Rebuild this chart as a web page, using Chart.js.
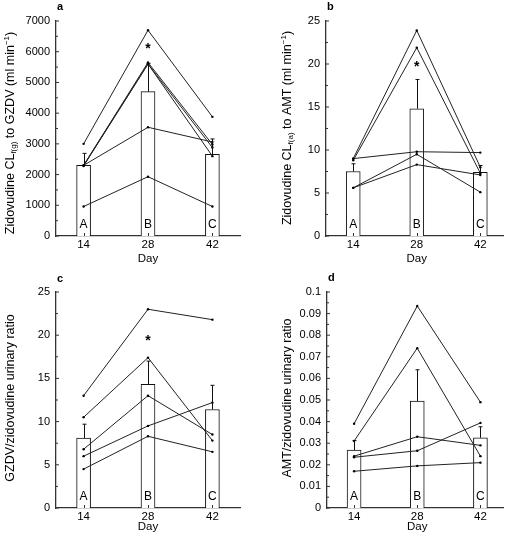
<!DOCTYPE html>
<html>
<head>
<meta charset="utf-8">
<script src="https://cdn.jsdelivr.net/npm/chart.js@4.4.1/dist/chart.umd.min.js"></script>
<style>
  body { margin: 0; background: #fff; }
  canvas { position: absolute; }
</style>
</head>
<body>
<canvas id="pa" width="255" height="270" style="left:0;top:0"></canvas>
<canvas id="pb" width="255" height="270" style="left:255px;top:0"></canvas>
<canvas id="pc" width="255" height="270" style="left:0;top:270px"></canvas>
<canvas id="pd" width="255" height="270" style="left:255px;top:270px"></canvas>
<script>
const days = [14, 28, 42];
const barLetters = ['A', 'B', 'C'];

// a: clearance to GZDV
const gzdvClMean = [2300, 4700, 2660];
const gzdvClErrTop = [2690, 5620, 3160];
const gzdvClSubjects = [
    [3000, 6700, 3880],
    [2300, 5650, 2980],
    [2300, 5600, 2880],
    [2280, 5600, 2600],
    [2300, 3540, 3060],
    [960, 1930, 960]
];
const gzdvClTicks = [0, 1000, 2000, 3000, 4000, 5000, 6000, 7000];

// b: clearance to AMT
const amtClMean = [7.5, 14.8, 7.4];
const amtClErrTop = [8.4, 18.2, 8.2];
const amtClSubjects = [
    [9.0, 23.9, 8.0],
    [8.8, 21.9, 7.3],
    [9.0, 9.8, 9.7],
    [5.6, 9.5, 5.1],
    [5.6, 8.3, 7.1]
];
const amtClTicks = [0, 5, 10, 15, 20, 25];

// c: GZDV/zidovudine urinary ratio
const gzdvRatioMean = [8.1, 14.3, 11.4];
const gzdvRatioErrTop = [9.7, 17.0, 14.2];
const gzdvRatioSubjects = [
    [13.0, 23.0, 21.8],
    [10.5, 17.4, 7.8],
    [6.8, 13.0, 8.5],
    [6.0, 9.5, 12.2],
    [4.5, 8.3, 6.5]
];
const gzdvRatioTicks = [0, 5, 10, 15, 20, 25];

// d: AMT/zidovudine urinary ratio
const amtRatioMean = [0.0268, 0.0495, 0.0325];
const amtRatioErrTop = [0.0312, 0.064, 0.0376];
const amtRatioSubjects = [
    [0.039, 0.0935, 0.049],
    [0.031, 0.074, 0.024],
    [0.024, 0.033, 0.029],
    [0.0235, 0.0265, 0.0394],
    [0.017, 0.0195, 0.021]
];
const amtRatioTicks = [0, 0.01, 0.02, 0.03, 0.04, 0.05, 0.06, 0.07, 0.08, 0.09, 0.1];

// star marks (significance) at day 28
const starA = 6180, starB = 20, starC = 19.7;

const FONT = "'Liberation Sans', Arial, Helvetica, sans-serif";

function drawTitle(ctx, cx, cy, parts) {
    // parts: [text, kind] kind: '' | 'sub' | 'sup'
    ctx.save();
    ctx.translate(cx, cy);
    ctx.rotate(-Math.PI / 2);
    ctx.fillStyle = '#000';
    ctx.textBaseline = 'middle';
    ctx.textAlign = 'left';
    const fontOf = k => (k ? '8px ' : '12.5px ') + FONT;
    let total = 0;
    parts.forEach(([t, k]) => { ctx.font = fontOf(k); total += ctx.measureText(t).width; });
    let x = -total / 2;
    parts.forEach(([t, k]) => {
        ctx.font = fontOf(k);
        const dy = k === 'sub' ? 3 : k === 'sup' ? -4 : 0;
        ctx.fillText(t, x, dy);
        x += ctx.measureText(t).width;
    });
    ctx.restore();
}

const decor = {
    id: 'decor',
    afterDatasetsDraw(chart) {
        const p = chart.options.plugins.decor;
        const ctx = chart.ctx;
        const xs = chart.scales.x, ys = chart.scales.y;
        const area = chart.chartArea;
        ctx.save();
        ctx.strokeStyle = '#111';
        ctx.lineWidth = 1;
        // error bars (upper only)
        p.mean.forEach((m, i) => {
            const x = Math.round(xs.getPixelForValue(days[i])) + 0.5;
            const y0 = ys.getPixelForValue(m), y1 = ys.getPixelForValue(p.errTop[i]);
            ctx.beginPath();
            ctx.moveTo(x, y0); ctx.lineTo(x, y1);
            ctx.moveTo(x - 2, y1); ctx.lineTo(x + 2, y1);
            ctx.stroke();
        });
        // inward ticks
        ctx.strokeStyle = '#333';
        p.ticks.forEach((v, i) => {
            const y = ys.getPixelForValue(v);
            ctx.beginPath(); ctx.moveTo(area.left, y); ctx.lineTo(area.left + 3, y); ctx.stroke();
            if (i < p.ticks.length - 1) {
                const ym = ys.getPixelForValue((v + p.ticks[i + 1]) / 2);
                ctx.beginPath(); ctx.moveTo(area.left, ym); ctx.lineTo(area.left + 2, ym); ctx.stroke();
            }
        });
        days.forEach(d => {
            const x = Math.round(xs.getPixelForValue(d)) + 0.5;
            ctx.beginPath(); ctx.moveTo(x, area.bottom); ctx.lineTo(x, area.bottom - 3); ctx.stroke();
        });
        // letters in bars
        ctx.fillStyle = '#000';
        ctx.font = '12px ' + FONT;
        ctx.textAlign = 'center';
        ctx.textBaseline = 'alphabetic';
        barLetters.forEach((l, i) => ctx.fillText(l, xs.getPixelForValue(days[i]), area.bottom - 8));
        // star
        if (p.star != null) {
            ctx.font = 'bold 14px ' + FONT;
            ctx.textBaseline = 'middle';
            ctx.fillText('*', xs.getPixelForValue(28), ys.getPixelForValue(p.star) + 3);
        }
        // panel letter
        ctx.font = 'bold 11px ' + FONT;
        ctx.textAlign = 'left';
        ctx.textBaseline = 'alphabetic';
        ctx.fillText(p.letter, p.letterX, p.letterY);
        // x title
        ctx.font = '11.5px ' + FONT;
        ctx.textAlign = 'center';
        ctx.textBaseline = 'middle';
        ctx.fillText('Day', (xs.getPixelForValue(28)), p.dayY);
        ctx.restore();
        drawTitle(ctx, p.titleX, p.titleY, p.title);
    }
};

function makePanel(id, L, d) {
    const lines = d.subjects.map(s => ({
        type: 'line',
        data: s.map((v, i) => ({ x: days[i], y: v })),
        borderColor: '#222',
        borderWidth: 1,
        pointRadius: 1.2,
        pointBackgroundColor: '#000',
        pointBorderWidth: 0,
        order: 1
    }));
    new Chart(document.getElementById(id), {
        type: 'bar',
        data: {
            datasets: [{
                data: d.mean.map((v, i) => ({ x: days[i], y: v })),
                backgroundColor: '#fff',
                borderColor: '#111',
                borderWidth: 1,
                barThickness: 14,
                order: 2
            }, ...lines]
        },
        options: {
            responsive: false,
            animation: false,
            layout: { padding: { left: 0, top: L.top, right: 255 - L.right, bottom: 0 } },
            scales: {
                x: {
                    type: 'linear', min: 8, max: L.xMax, offset: false,
                    grid: { display: false, drawTicks: false, offset: false },
                    border: { color: '#333', width: 1.3 },
                    afterBuildTicks: s => { s.ticks = days.map(v => ({ value: v })); },
                    afterFit: s => { s.height = 270 - L.bottom; },
                    ticks: { color: '#000', padding: 2, font: { family: FONT, size: 11.5 } }
                },
                y: {
                    min: 0, max: d.ticks[d.ticks.length - 1],
                    grid: { display: false, drawTicks: false },
                    border: { color: '#333', width: 1.3 },
                    afterBuildTicks: s => { s.ticks = d.ticks.map(v => ({ value: v })); },
                    afterFit: s => { s.width = L.left; },
                    ticks: { color: '#000', padding: 6, font: { family: FONT, size: 11 },
                        callback: v => String(+v.toFixed(2)) }
                }
            },
            plugins: {
                legend: { display: false },
                tooltip: { enabled: false },
                decor: {
                    mean: d.mean, errTop: d.errTop, ticks: d.ticks, star: d.star,
                    letter: d.letter, letterX: L.left + 1, letterY: L.letterY,
                    dayY: L.dayY, titleX: L.titleX, titleY: L.titleY, title: d.title
                }
            }
        },
        plugins: [decor]
    });
}

document.addEventListener('DOMContentLoaded', () => {
    makePanel('pa',
        { left: 56, top: 21, right: 240, bottom: 236, xMax: 48, letterY: 10, dayY: 259, titleX: 11, titleY: 133 },
        { mean: gzdvClMean, errTop: gzdvClErrTop, subjects: gzdvClSubjects, ticks: gzdvClTicks, star: starA, letter: 'a',
          title: [['Zidovudine CL', ''], ['f(g)', 'sub'], [' to GZDV (ml min', ''], ['\u22121', 'sup'], [')', '']] });
    makePanel('pb',
        { left: 71, top: 21, right: 248, bottom: 236, xMax: 47, letterY: 10, dayY: 259, titleX: 33, titleY: 128 },
        { mean: amtClMean, errTop: amtClErrTop, subjects: amtClSubjects, ticks: amtClTicks, star: starB, letter: 'b',
          title: [['Zidovudine CL', ''], ['f(a)', 'sub'], [' to AMT (ml min', ''], ['\u22121', 'sup'], [')', '']] });
    makePanel('pc',
        { left: 56, top: 22, right: 240, bottom: 238, xMax: 48, letterY: 12, dayY: 257, titleX: 11, titleY: 128 },
        { mean: gzdvRatioMean, errTop: gzdvRatioErrTop, subjects: gzdvRatioSubjects, ticks: gzdvRatioTicks, star: starC, letter: 'c',
          title: [['GZDV/zidovudine urinary ratio', '']] });
    makePanel('pd',
        { left: 72, top: 22, right: 248, bottom: 238, xMax: 47, letterY: 11, dayY: 257, titleX: 33, titleY: 128 },
        { mean: amtRatioMean, errTop: amtRatioErrTop, subjects: amtRatioSubjects, ticks: amtRatioTicks, star: null, letter: 'd',
          title: [['AMT/zidovudine urinary ratio', '']] });
});
</script>
</body>
</html>
